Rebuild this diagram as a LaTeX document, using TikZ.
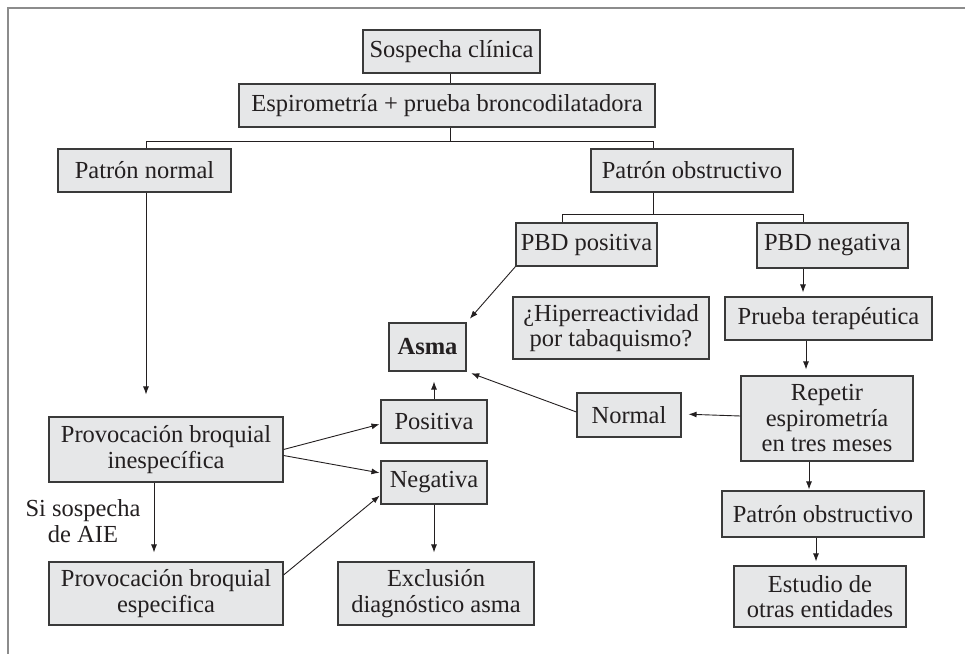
\documentclass[tikz,border=0pt]{standalone}
\usepackage{fontspec}
\setmainfont{Liberation Serif}
\usetikzlibrary{arrows.meta,calc}
\definecolor{boxfill}{HTML}{E6E7E8}
\definecolor{boxline}{HTML}{3A3A3A}
\definecolor{ink}{HTML}{231F20}
\definecolor{framegray}{HTML}{8C8C8C}
\begin{document}
\begin{tikzpicture}[x=1pt,y=-1pt,
  box/.style={draw=boxline, fill=boxfill, line width=1.1pt, inner sep=0pt,
    align=center, text=ink, font=\fontsize{24.5}{25.5}\selectfont},
  conn/.style={draw=ink, line width=0.9pt},
  arr/.style={conn, -{Latex[length=8pt,width=6pt]}},
  lbl/.style={align=center, text=ink, inner sep=0pt, font=\fontsize{24.5}{25.5}\selectfont}]
\useasboundingbox (0,0) rectangle (965,653);
% outer frame
\draw[framegray, line width=2pt] (8,700) -- (8,8) -- (1000,8);

% boxes
\node[box, minimum width=177, minimum height=43] (sc) at (451.5,51.5) {Sospecha clínica};
\node[box, minimum width=416, minimum height=43] (esp) at (447,105.5) {Espirometría + prueba broncodilatadora};
\node[box, minimum width=173, minimum height=43] (pn) at (144.5,170.5) {Patrón normal};
\node[box, minimum width=202, minimum height=43] (po) at (692,170.5) {Patrón obstructivo};
\node[box, minimum width=141, minimum height=43] (pbdp) at (586.5,244.5) {PBD positiva};
\node[box, minimum width=151, minimum height=45] (pbdn) at (832.5,245.5) {PBD negativa};
\node[box, minimum width=196, minimum height=62] (hip) at (611,328) {¿Hiperreactividad\\por tabaquismo?};
\node[box, minimum width=207, minimum height=43] (pt) at (828.5,318.5) {Prueba terapéutica};
\node[box, minimum width=172, minimum height=85] (rep) at (827,418.5) {Repetir\\espirometría\\en tres meses};
\node[box, minimum width=104, minimum height=44] (nor) at (629,415) {Normal};
\node[box, minimum width=77, minimum height=48, font=\fontsize{24.5}{25.5}\selectfont\bfseries] (asma) at (427.5,347) {Asma};
\node[box, minimum width=106, minimum height=43] (pos) at (434,421.5) {Positiva};
\node[box, minimum width=106, minimum height=43] (neg) at (434,482.5) {Negativa};
\node[box, minimum width=234, minimum height=65] (pbi) at (166,449.5) {Provocación broquial\\inespecífica};
\node[box, minimum width=234, minimum height=63] (pbe) at (166,593.5) {Provocación broquial\\especifica};
\node[box, minimum width=196, minimum height=63] (exc) at (436,593.5) {Exclusión\\diagnóstico asma};
\node[box, minimum width=202, minimum height=46] (po2) at (823,514) {Patrón obstructivo};
\node[box, minimum width=172, minimum height=61] (est) at (820,596.5) {Estudio de\\otras entidades};
\node[lbl] (aie) at (83,521) {Si sospecha\\de AIE};

% junction points of the two branchings
\coordinate (j1) at (450,141);
\coordinate (j1l) at (146,141);
\coordinate (j1r) at (653,141);
\coordinate (j2) at (653,214);
\coordinate (j2l) at (562,214);
\coordinate (j2r) at (803,214);

% plain connectors
\draw[conn] (sc.south -| j1) -- (esp.north -| j1);
\draw[conn] (esp.south -| j1) -- (j1);
\draw[conn] (pn.north -| j1l) -- (j1l) -- (j1r) -- (po.north -| j1r);
\draw[conn] (po.south -| j2) -- (j2);
\draw[conn] (pbdp.north -| j2l) -- (j2l) -- (j2r) -- (pbdn.north -| j2r);

% arrows, left branch
\draw[arr, shorten >=22pt] (pn.south -| j1l) -- (pbi.north -| j1l);
\draw[arr, shorten >=1pt] (pbi.east) -- ($(pos.west)+(0,2.5)$);
\draw[arr, shorten >=1pt] ($(pbi.east)+(0,6)$) -- ($(neg.west)+(0,-9.5)$);
\draw[arr, shorten >=9pt] ($(pbi.south)+(-12,0)$) -- ($(pbe.north)+(-12,0)$);
\draw[arr, shorten >=1pt] ($(pbe.east)+(0,-18.5)$) -- ($(neg.west)+(0,12.5)$);
\draw[arr, shorten >=10pt] (pos.north) -- (pos.north |- asma.south);
\draw[arr, shorten >=9pt] (neg.south) -- (neg.south |- exc.north);

% arrows, right branch
\draw[arr, shorten >=5pt] (pbdp.south west) -- (asma.north east);
\draw[arr, shorten >=4pt] (pbdn.south -| j2r) -- (pt.north -| j2r);
\draw[arr, shorten >=6pt] ([xshift=-22.5pt]pt.south) -- ([xshift=-21pt]rep.north);
\draw[arr, shorten >=7pt] ([yshift=2.5pt]rep.west) -- ([yshift=1pt]nor.east);
\draw[arr, shorten >=5pt] ([yshift=3pt]nor.west) -- (asma.south east);
\draw[arr, shorten >=1pt] ([xshift=-18pt]rep.south) -- ([xshift=-14pt]po2.north);
\draw[arr, shorten >=4pt] ([xshift=-7pt]po2.south) -- ([xshift=-4pt]est.north);
\end{tikzpicture}
\end{document}
